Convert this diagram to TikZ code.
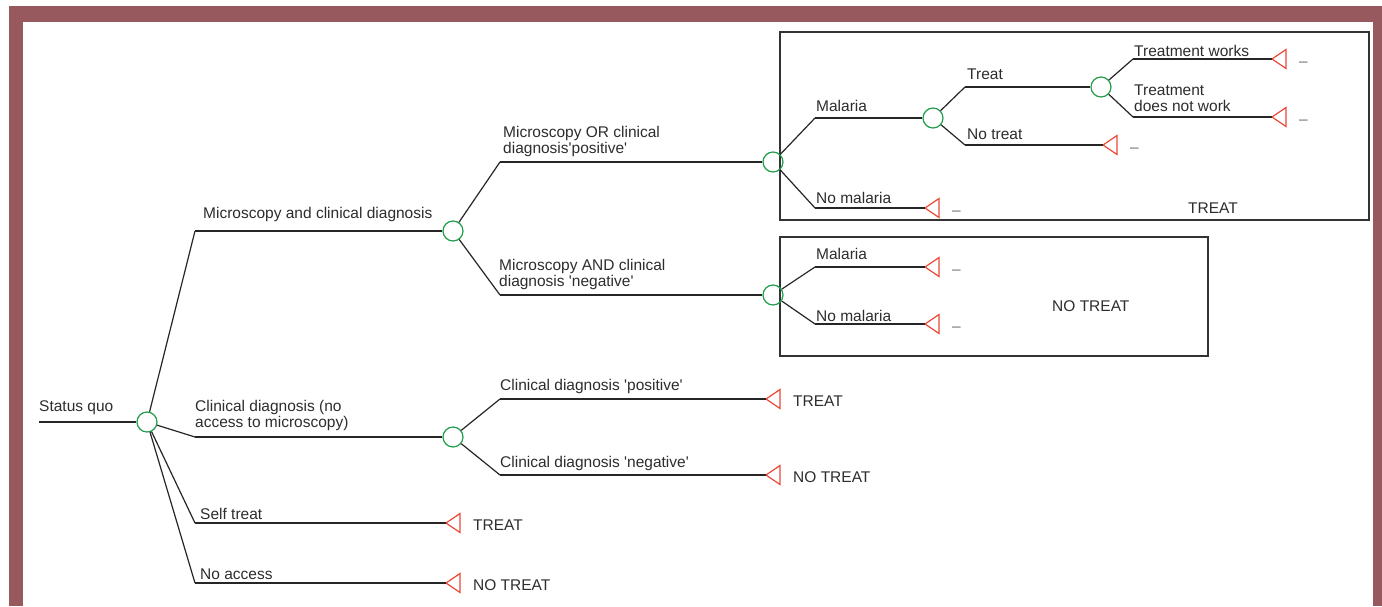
\documentclass[tikz,border=0pt]{standalone}
\usepackage{fontspec}
\setmainfont{Liberation Sans}
\usetikzlibrary{positioning}
\definecolor{frameRed}{RGB}{151,89,94}
\definecolor{chanceGreen}{RGB}{34,158,74}
\definecolor{endRed}{RGB}{236,72,56}
\definecolor{textGray}{RGB}{45,45,45}
\newcommand{\nilmark}{\textcolor{black!55}{--}}

\begin{document}
\begin{tikzpicture}
[x=1pt,y=-1pt,
  linedecorate/.style={-,line width=1.2pt,draw=black!85},%
  nodeChance/.style={shape=circle,draw=chanceGreen,line width=1.2pt,inner sep=0pt,minimum size=20pt},%
  nodeEnd/.style={draw=endRed,line width=1.2pt},%
  labelText/.style={anchor=base west,inner sep=0pt,align=left,text=textGray,font=\fontsize{15.5}{15.5}\selectfont},%
  boxFrame/.style={draw=black!80,line width=1.2pt}]
\useasboundingbox (0,0) rectangle (1382,606);
%% frame
\fill[white] (0,0) rectangle (1382,606);
\fill[frameRed] (9,6) rectangle (1382,606);
\fill[white] (23,22) rectangle (1373,606);
%% boxes round the sub-trees
\draw[boxFrame] (780,32) rectangle (1369,220);
\draw[boxFrame] (780,237) rectangle (1208,356);
%% chance nodes
\foreach \nodename/\x/\y in {c0/147/422, c1/453/231, c2/453/437,
  c3/773/162, c4/773/295, c5/933/118, c6/1101/87}
{
  \node (\nodename) at (\x,\y) [nodeChance] {};
}
%% bends of the branches
\foreach \nodename/\x/\y in {k1/195/231, k2/195/437, k3/195/523,
  k4/195/583, k5/500/162, k6/500/295, k7/815/118, k8/815/208,
  k9/965/87, k10/965/145, k11/1133/59, k12/1133/117, k13/815/267,
  k14/815/324, k15/500/399, k16/500/475}
{
  \coordinate (\nodename) at (\x,\y);
}
%% end points
\foreach \nodename/\x/\y in {t1/925/208, t2/1103/145, t3/1272/59,
  t4/1272/117, t5/925/267, t6/925/324, t7/766/399, t8/766/475,
  t9/446/523, t10/446/583}
{
  \coordinate (\nodename) at (\x,\y);
  \draw[nodeEnd] (\nodename) -- ++(14,-9.5) -- ++(0,19) -- cycle;
}
\coordinate (s0) at (39,422);
%% edges or lines
\path
\foreach \startnode/\endnode in {s0/c0, c0/k1, k1/c1, c0/k2, k2/c2,
  c0/k3, k3/t9, c0/k4, k4/t10, c1/k5, k5/c3, c1/k6, k6/c4, c3/k7,
  k7/c5, c3/k8, k8/t1, c5/k9, k9/c6, c5/k10, k10/t2, c6/k11, k11/t3,
  c6/k12, k12/t4, c4/k13, k13/t5, c4/k14, k14/t6, c2/k15, k15/t7,
  c2/k16, k16/t8}
{
  (\startnode) edge[linedecorate] (\endnode)
};
%% branch labels
\foreach \nodename/\x/\y/\branch in {l0/39/411/{Status quo},
  l1/203/218/{Microscopy and clinical diagnosis},
  l2/195/427/{Clinical diagnosis (no\\access to microscopy)},
  l3/200/519/{Self treat}, l4/200/579/{No access},
  l5/503/153/{Microscopy OR clinical\\diagnosis\textquotesingle positive\textquotesingle},
  l6/499/286/{Microscopy AND clinical\\diagnosis \textquotesingle negative\textquotesingle},
  l7/816/111/{Malaria}, l8/816/203/{No malaria},
  l9/967/79/{Treat}, l10/967/139/{No treat},
  l11/1134/56/{Treatment works}, l12/1134/111/{Treatment\\does not work},
  l13/816/259/{Malaria}, l14/816/321/{No malaria},
  l15/500/390/{Clinical diagnosis \textquotesingle positive\textquotesingle},
  l16/500/467/{Clinical diagnosis \textquotesingle negative\textquotesingle},
  b1/1188/213/{TREAT}, b2/1052/311/{NO TREAT}}
{
  \node (\nodename) at (\x,\y) [labelText] {\branch};
}
%% outcomes
\foreach \nodename/\outcome in {t1/\nilmark, t2/\nilmark, t3/\nilmark,
  t4/\nilmark, t5/\nilmark, t6/\nilmark, t7/TREAT, t8/NO TREAT,
  t9/TREAT, t10/NO TREAT}
{
  \node (o\nodename) at (\nodename) [labelText,xshift=27pt,yshift=-7pt] {\outcome};
}
\end{tikzpicture}
\end{document}
